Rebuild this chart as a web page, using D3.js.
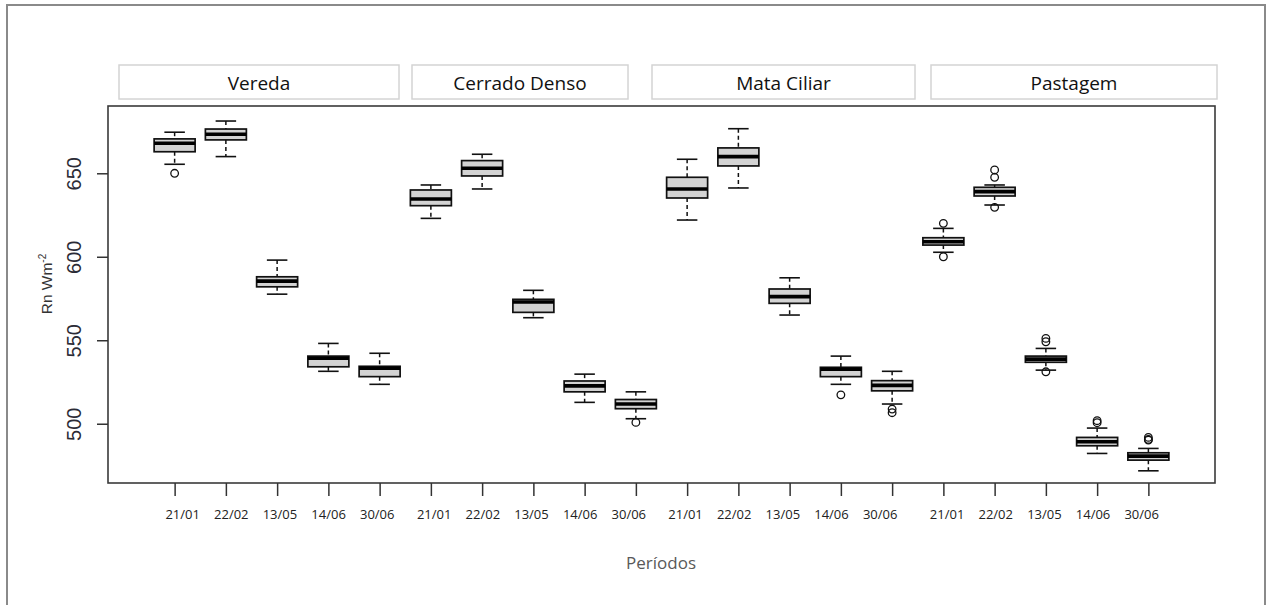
<!DOCTYPE html>
<html>
<head>
<meta charset="utf-8">
<script src="https://cdn.jsdelivr.net/npm/d3@7"></script>
<style>
  html, body { margin: 0; padding: 0; background: #ffffff; }
  svg { display: block; }
</style>
</head>
<body>
<svg id="chart" width="1268" height="605"></svg>
<script>
// Surface types (panels) and the five acquisition dates in each
const surfaces = ["Vereda", "Cerrado Denso", "Mata Ciliar", "Pastagem"];
const periods = ["21/01", "22/02", "13/05", "14/06", "30/06"];

// Net radiation (Rn, W m-2) box statistics, panel by panel, date by date
const whiskerLow = [655.4, 660.0, 577.6, 531.4, 523.6,
                    623.0, 640.6, 563.5, 512.8, 503.0,
                    622.0, 641.2, 565.1, 523.6, 511.8,
                    602.7, 631.0, 532.1, 482.2, 471.8];
const q1 =         [662.9, 670.0, 582.0, 534.1, 528.2,
                    630.6, 648.4, 566.7, 519.1, 509.0,
                    635.2, 654.4, 572.1, 528.2, 519.7,
                    607.0, 636.4, 536.8, 486.8, 478.2];
const median =     [668.0, 673.4, 585.4, 539.2, 533.2,
                    634.6, 653.0, 572.9, 522.7, 511.8,
                    640.6, 660.0, 576.1, 532.6, 523.0,
                    609.0, 639.0, 538.7, 489.2, 480.6];
const q3 =         [670.6, 676.5, 588.0, 540.5, 534.4,
                    640.0, 657.6, 574.5, 525.6, 514.5,
                    647.6, 665.2, 580.7, 533.8, 525.8,
                    611.4, 641.6, 540.5, 491.8, 482.6];
const whiskerHigh = [674.6, 681.3, 598.0, 548.1, 542.2,
                     643.0, 661.4, 579.9, 529.7, 519.1,
                     658.4, 676.7, 587.4, 540.5, 531.4,
                     617.0, 643.0, 545.1, 497.4, 485.2];
const outliers = [[650.0], [], [], [], [],
                  [], [], [], [], [500.8],
                  [], [], [], [517.3], [508.8, 506.6],
                  [620.0, 600.0], [652.0, 647.6, 629.6], [551.1, 549.1, 531.1], [501.8, 500.6], [491.8, 490.6, 490.2]];

// Y axis ticks
const yTicks = [500, 550, 600, 650];

// ---- layout ----
const svg = d3.select("#chart");
const plot = { left: 108, right: 1215, top: 106, bottom: 483 };

const x = d3.scaleLinear().domain([-0.3, 21.3]).range([plot.left, plot.right]);
const y = d3.scaleLinear().domain([464.5, 690.3]).range([plot.bottom, plot.top]);

const boxes = whiskerLow.map((lo, i) => ({
  pos: i + 1,
  lo, q1: q1[i], med: median[i], q3: q3[i], hi: whiskerHigh[i], out: outliers[i]
}));

// outer frame
svg.append("rect")
  .attr("x", 7).attr("y", 5).attr("width", 1258).attr("height", 640)
  .attr("fill", "none").attr("stroke", "#8a8a8a").attr("stroke-width", 2);

// panel strips
const stripSpans = [[119, 399], [412, 628], [652, 915], [931, 1217]];
const strips = svg.append("g");
surfaces.forEach((name, g) => {
  const [a, b] = stripSpans[g];
  strips.append("rect")
    .attr("x", a).attr("y", 65).attr("width", b - a).attr("height", 34)
    .attr("fill", "#ffffff").attr("stroke", "#d4d4d4").attr("stroke-width", 1.5);
  strips.append("text")
    .attr("x", (a + b) / 2).attr("y", 89.5)
    .attr("text-anchor", "middle")
    .attr("font-family", "'Open Sans', sans-serif").attr("font-size", 19)
    .attr("fill", "#111").text(name);
});

// plot box
svg.append("rect")
  .attr("x", plot.left).attr("y", plot.top)
  .attr("width", plot.right - plot.left).attr("height", plot.bottom - plot.top)
  .attr("fill", "none").attr("stroke", "#3a3a3a").attr("stroke-width", 1.6);

// y axis
const yAxis = svg.append("g")
  .attr("transform", `translate(${plot.left},0)`)
  .call(d3.axisLeft(y).tickValues(yTicks).tickSize(11).tickSizeOuter(0).tickFormat(d3.format("d")));
yAxis.select(".domain").remove();
yAxis.selectAll(".tick line").attr("stroke", "#333").attr("stroke-width", 1.5);
yAxis.selectAll(".tick text")
  .attr("x", null).attr("dy", null)
  .attr("transform", "translate(-27.5,0) rotate(-90)")
  .attr("text-anchor", "middle")
  .attr("font-family", "'Liberation Sans', Arial, sans-serif")
  .attr("font-size", 20)
  .attr("fill", "#2b2b36");

// y axis title
const yTitle = svg.append("text")
  .attr("transform", "translate(51.5,284) rotate(-90)")
  .attr("text-anchor", "middle")
  .attr("font-family", "'Liberation Sans', Arial, sans-serif")
  .attr("font-size", 15.5)
  .attr("fill", "#333");
yTitle.append("tspan").text("Rn Wm");
yTitle.append("tspan").attr("dy", -6).attr("font-size", 10).text("-2");

// x axis ticks
const xAxis = svg.append("g")
  .attr("transform", `translate(0,${plot.bottom})`)
  .call(d3.axisBottom(x).tickValues(boxes.map(d => d.pos)).tickSize(13).tickSizeOuter(0).tickFormat(""));
xAxis.select(".domain").remove();
xAxis.selectAll(".tick line").attr("stroke", "#333").attr("stroke-width", 1.5);

// date labels under each panel's ticks
const labelShift = [8, 3.3, -1.6, 3.7];
const labelStep = 48.65;
const dateLabels = svg.append("g");
boxes.forEach((d, i) => {
  const g = Math.floor(i / periods.length), k = i % periods.length;
  const x0 = x(g * periods.length + 1);
  dateLabels.append("text")
    .attr("x", x0 + labelShift[g] + k * labelStep)
    .attr("y", 519)
    .attr("text-anchor", "middle")
    .attr("font-family", "'Open Sans', sans-serif").attr("font-size", 13)
    .attr("fill", "#222").text(periods[k]);
});

// x axis title
svg.append("text")
  .attr("x", 661).attr("y", 569)
  .attr("text-anchor", "middle")
  .attr("font-family", "'Open Sans', sans-serif").attr("font-size", 17)
  .attr("fill", "#595959").text("Períodos");

// boxplots
const halfBox = x(0.4) - x(0);
const halfCap = x(0.2) - x(0);
const bp = svg.append("g").selectAll("g").data(boxes).join("g");

// dashed whiskers
bp.append("line")
  .attr("x1", d => x(d.pos)).attr("x2", d => x(d.pos))
  .attr("y1", d => y(d.hi)).attr("y2", d => y(d.q3))
  .attr("stroke", "#111").attr("stroke-width", 1.5).attr("stroke-dasharray", "4,3");
bp.append("line")
  .attr("x1", d => x(d.pos)).attr("x2", d => x(d.pos))
  .attr("y1", d => y(d.q1)).attr("y2", d => y(d.lo))
  .attr("stroke", "#111").attr("stroke-width", 1.5).attr("stroke-dasharray", "4,3");
// caps
bp.append("line")
  .attr("x1", d => x(d.pos) - halfCap).attr("x2", d => x(d.pos) + halfCap)
  .attr("y1", d => y(d.hi)).attr("y2", d => y(d.hi))
  .attr("stroke", "#111").attr("stroke-width", 1.6);
bp.append("line")
  .attr("x1", d => x(d.pos) - halfCap).attr("x2", d => x(d.pos) + halfCap)
  .attr("y1", d => y(d.lo)).attr("y2", d => y(d.lo))
  .attr("stroke", "#111").attr("stroke-width", 1.6);
// box
bp.append("rect")
  .attr("x", d => x(d.pos) - halfBox).attr("width", 2 * halfBox)
  .attr("y", d => y(d.q3)).attr("height", d => y(d.q1) - y(d.q3))
  .attr("fill", "#d3d3d3").attr("stroke", "#111").attr("stroke-width", 1.7);
// median
bp.append("line")
  .attr("x1", d => x(d.pos) - halfBox).attr("x2", d => x(d.pos) + halfBox)
  .attr("y1", d => y(d.med)).attr("y2", d => y(d.med))
  .attr("stroke", "#000").attr("stroke-width", 3.6);
// outliers
bp.selectAll("circle").data(d => d.out.map(v => ({ pos: d.pos, v }))).join("circle")
  .attr("cx", d => x(d.pos)).attr("cy", d => y(d.v)).attr("r", 3.8)
  .attr("fill", "none").attr("stroke", "#111").attr("stroke-width", 1.3);
</script>
</body>
</html>
